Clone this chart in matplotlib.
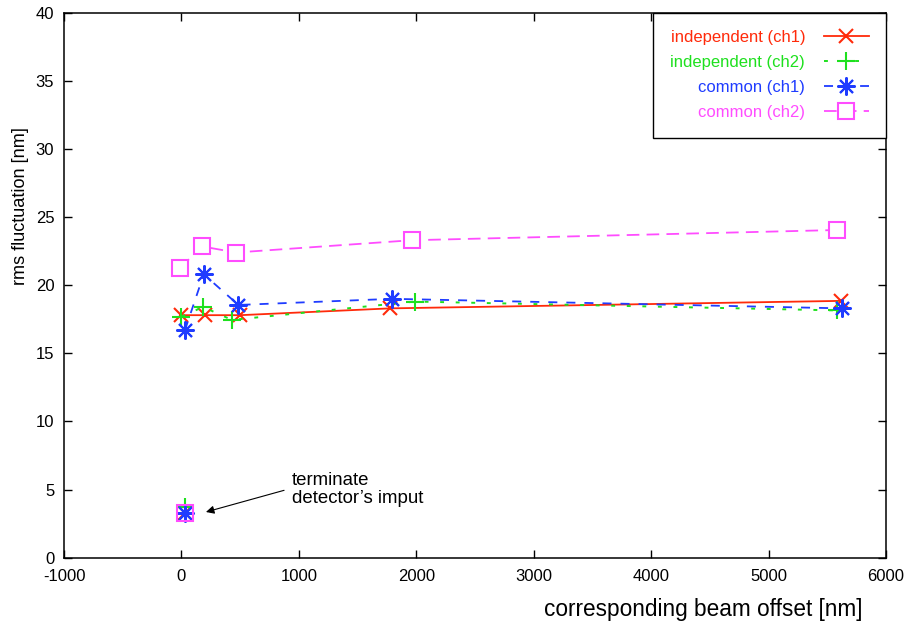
import matplotlib
matplotlib.use('Agg')
import matplotlib.pyplot as plt
import numpy as np

plt.rcParams['font.family'] = ['Liberation Sans', 'DejaVu Sans']
plt.rcParams['axes.unicode_minus'] = False

# beam offset [nm] vs rms fluctuation [nm]
ind1_x = [0, 200, 500, 1780, 5620]
ind1_y = [17.8, 17.8, 17.8, 18.3, 18.85]
ind2_x = [0, 185, 430, 1990, 5580]
ind2_y = [17.7, 18.4, 17.45, 18.8, 18.15]
com1_x = [30, 190, 485, 1795, 5625]
com1_y = [16.7, 20.8, 18.55, 19.0, 18.3]
com2_x = [-12, 173, 465, 1960, 5580]
com2_y = [21.25, 22.85, 22.4, 23.3, 24.05]

# detector input terminated
term_x = [30, 30, 30, 30]
term_y = [3.3, 3.7, 3.25, 3.3]

labels = ['independent (ch1)', 'independent (ch2)', 'common (ch1)', 'common (ch2)']
colors = ['#ff2a0a', '#1ee01e', '#1f3cff', '#ff4cff']

fig = plt.figure(figsize=(9.08, 6.26), dpi=100)
ax = fig.add_axes([64/908, 1 - 557.7/626, (886 - 64)/908, (557.7 - 12.7)/626])

ax.plot(ind1_x, ind1_y, color=colors[0], ls='-', lw=1.3, marker='x', ms=10, mew=1.5, label=labels[0])
ax.plot(ind2_x, ind2_y, color=colors[1], ls=(0, (2, 6)), lw=1.4, marker='+', ms=13, mew=1.5, label=labels[1])
ax.plot(com1_x, com1_y, color=colors[2], ls=(0, (5, 5)), lw=1.3, marker=(8, 2, 0), ms=13, mew=1.5, label=labels[2])
ax.plot(com2_x, com2_y, color=colors[3], ls=(0, (7, 4)), lw=1.3, marker='s', ms=11, mew=1.5,
        mfc='white', label=labels[3])

mk = ['x', '+', (8, 2, 0), 's']
ms = [10, 13, 13, 11]
for i in range(4):
    ax.plot(term_x[i], term_y[i], ls='none', color=colors[i], marker=mk[i], ms=ms[i], mew=1.5,
            mfc='none')

ax.annotate('', xy=(186, 3.3), xytext=(897, 5.0),
            arrowprops=dict(arrowstyle='-|>', color='black', lw=0.8, mutation_scale=12))
ax.text(940, 5.0, "terminate\ndetector\u2019s imput", fontsize=13.4, ha='left', va='center',
        linespacing=1.1)

ax.set_xlim(-1000, 6000)
ax.set_ylim(0, 40)
ax.set_xticks(np.arange(-1000, 6001, 1000))
ax.set_yticks(np.arange(0, 41, 5))
ax.tick_params(direction='in', top=True, right=True, length=6, width=1, labelsize=12)
ax.tick_params(axis='x', pad=8)
ax.tick_params(axis='y', pad=7)
for s in ax.spines.values():
    s.set_linewidth(1.1)

ax.set_ylabel('rms fluctuation [nm]', fontsize=13.1)
ax.yaxis.set_label_coords(-0.043, 0.645)
ax.set_xlabel('corresponding beam offset [nm]', fontsize=16.3, ha='right', va='top')
ax.xaxis.set_label_coords(0.972, -0.074)

leg = ax.legend(loc='upper right', markerfirst=False, labelcolor='linecolor', fontsize=12,
                frameon=True, fancybox=False, framealpha=1, edgecolor='black', borderaxespad=0,
                handlelength=2.7, handletextpad=1.1, borderpad=1.05, labelspacing=0.6)
leg.get_frame().set_linewidth(1.0)

fig.savefig('out.png', dpi=100)
